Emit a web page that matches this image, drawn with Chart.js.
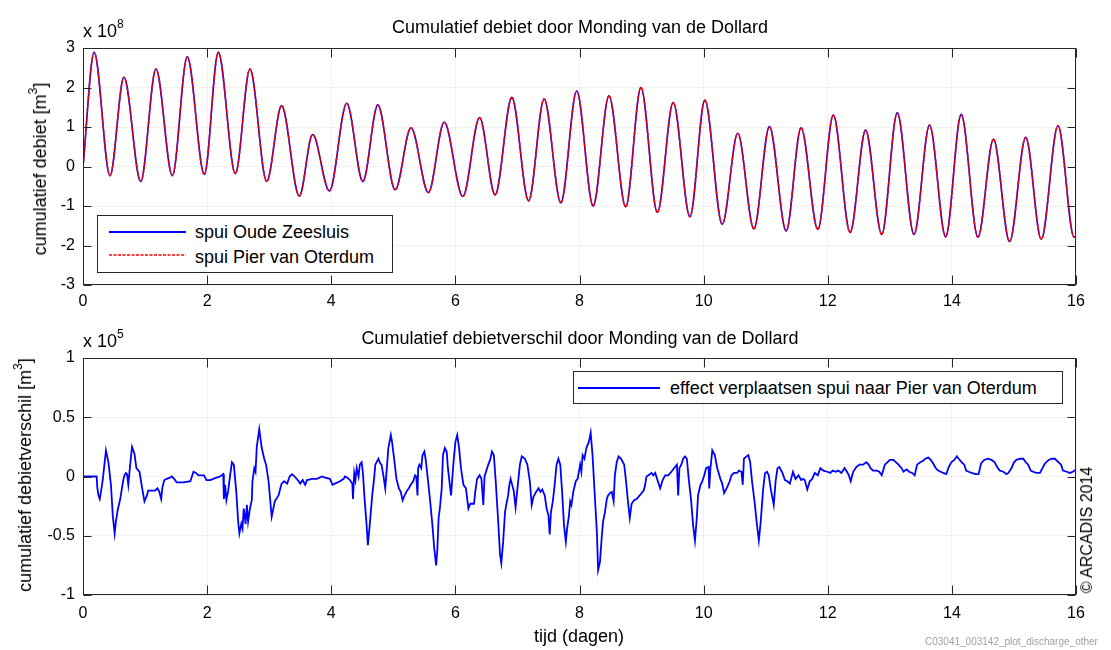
<!DOCTYPE html>
<html>
<head>
<meta charset="utf-8">
<script src="https://cdn.jsdelivr.net/npm/chart.js@4/dist/chart.umd.min.js"></script>
<style>
  html, body { margin: 0; padding: 0; background: #fff; overflow: hidden; }
  #wrap { position: relative; width: 1111px; height: 650px; background: #fff; overflow: hidden;
          font-family: "Liberation Sans", Arial, Helvetica, sans-serif; color: #000; }
  canvas { position: absolute; left: 0; }
  .t { position: absolute; white-space: nowrap; line-height: 1; }
  .title { font-size: 18px; transform: translate(-50%, -50%); }
  .ylab { font-size: 18px; transform: translate(-50%, -50%) rotate(-90deg); }
  .legend { position: absolute; background: #fff; border: 1px solid #262626; box-sizing: border-box; }
  .lline { position: absolute; }
  .ltext { position: absolute; font-size: 18px; line-height: 1; white-space: nowrap; transform: translateY(-50%); }
  sup { font-size: 12px; position: relative; top: -4px; vertical-align: top; }
</style>
</head>
<body>
<div id="wrap">
  <canvas id="c1" width="1111" height="320" style="top:0"></canvas>
  <canvas id="c2" width="1111" height="330" style="top:320px"></canvas>

  <div class="t title" style="left:580px; top:27px;">Cumulatief debiet door Monding van de Dollard</div>
  <div class="t" style="left:83px; top:22px; font-size:18px;">x 10<sup>8</sup></div>
  <div class="t ylab" style="left:40px; top:169px;">cumulatief debiet [m<sup>3</sup>]</div>

  <div class="legend" style="left:97px; top:215px; width:296px; height:58px;"></div>
  <div class="lline" style="left:109px; top:231px; width:77px; height:2px; background:#0000ff;"></div>
  <div class="ltext" style="left:195px; top:232px;">spui Oude Zeesluis</div>
  <svg class="lline" style="left:109px; top:253px;" width="77" height="4">
    <line x1="0" y1="2" x2="77" y2="2" stroke="#ff0000" stroke-width="1.4" stroke-dasharray="3 1.5"/>
  </svg>
  <div class="ltext" style="left:195px; top:257px;">spui Pier van Oterdum</div>

  <div class="t title" style="left:580px; top:338px;">Cumulatief debietverschil door Monding van de Dollard</div>
  <div class="t" style="left:83px; top:332px; font-size:18px;">x 10<sup>5</sup></div>
  <div class="t ylab" style="left:25px; top:475px;">cumulatief debietverschil [m<sup>3</sup>]</div>
  <div class="t title" style="left:579px; top:636px;">tijd (dagen)</div>

  <div class="legend" style="left:573px; top:371px; width:490px; height:33px;"></div>
  <div class="lline" style="left:578px; top:387px; width:82px; height:2px; background:#0000ff;"></div>
  <div class="ltext" style="left:670px; top:388px;">effect verplaatsen spui naar Pier van Oterdum</div>

  <div class="t ylab" style="left:1087px; top:530px; font-size:16px;">© ARCADIS 2014</div>
  <div class="t" style="left:925px; top:637px; font-size:10px; color:#a0a0a0;">C03041_003142_plot_discharge_other</div>
</div>

<script>
// ---- Top panel: cumulative discharge (x 1e8 m3), peaks & troughs
const topDays = [0, 0.18, 0.435, 0.66, 0.93, 1.176, 1.44, 1.68, 1.955, 2.18, 2.455, 2.69, 2.96, 3.2, 3.485, 3.70,
  3.97, 4.25, 4.51, 4.75, 5.03, 5.285, 5.565, 5.82, 6.12, 6.39, 6.64, 6.91, 7.18, 7.43, 7.70, 7.955,
  8.22, 8.475, 8.745, 8.99, 9.255, 9.51, 9.78, 10.02, 10.30, 10.55, 10.81, 11.06, 11.33, 11.57, 11.84, 12.09,
  12.36, 12.61, 12.87, 13.12, 13.39, 13.64, 13.90, 14.15, 14.42, 14.67, 14.93, 15.19, 15.44, 15.71, 15.97, 16.0];
const topValues = [0, 2.89, -0.23, 2.26, -0.38, 2.47, -0.23, 2.78, -0.2, 2.89, -0.18, 2.47, -0.38, 1.54, -0.75, 0.81,
  -0.62, 1.6, -0.38, 1.56, -0.59, 0.98, -0.66, 1.12, -0.76, 1.24, -0.72, 1.75, -0.87, 1.71, -0.92, 1.91,
  -1.0, 1.79, -1.02, 2.0, -1.16, 1.62, -1.27, 1.68, -1.46, 0.84, -1.58, 1.01, -1.63, 0.98, -1.59, 1.30,
  -1.67, 0.92, -1.72, 1.36, -1.72, 1.05, -1.78, 1.32, -1.79, 0.69, -1.90, 0.74, -1.84, 1.03, -1.79, -1.76];

// ---- Bottom panel: cumulative discharge difference (x 1e5 m3), [day, value]
const diffPoints = [
  [0,0],[0.22,0],[0.23,-0.09],[0.25,-0.16],[0.27,-0.19],[0.29,-0.13],[0.32,-0.02],[0.37,0.22],[0.41,0.12],
  [0.45,-0.07],[0.48,-0.33],[0.51,-0.48],[0.53,-0.38],[0.56,-0.28],[0.60,-0.19],[0.63,-0.09],[0.66,0],
  [0.69,0.03],[0.71,0.02],[0.73,-0.07],[0.76,0.1],[0.79,0.25],[0.83,0.19],[0.86,0.07],[0.91,0.04],
  [0.95,-0.09],[0.99,-0.21],[1.03,-0.16],[1.05,-0.12],[1.11,-0.12],[1.16,-0.12],[1.2,-0.10],[1.23,-0.13],
  [1.26,-0.19],[1.28,-0.09],[1.31,-0.03],[1.35,-0.02],[1.4,-0.01],[1.43,0],[1.47,-0.02],[1.51,-0.05],
  [1.62,-0.05],[1.73,-0.04],[1.78,0.04],[1.82,0.03],[1.86,0.01],[1.9,0.01],[1.95,0.01],[1.99,-0.03],
  [2.05,-0.03],[2.1,-0.02],[2.15,-0.01],[2.21,0],[2.26,0.02],[2.27,-0.19],[2.29,-0.07],[2.31,-0.2],
  [2.34,-0.12],[2.37,0.01],[2.40,0.12],[2.43,0.1],[2.47,-0.13],[2.5,-0.38],[2.52,-0.48],[2.55,-0.4],
  [2.57,-0.44],[2.59,-0.27],[2.62,-0.4],[2.64,-0.24],[2.66,-0.38],[2.69,-0.27],[2.72,-0.2],[2.73,-0.04],
  [2.76,0.07],[2.78,0.04],[2.8,0.25],[2.84,0.40],[2.88,0.24],[2.92,0.15],[2.95,0.1],[2.99,-0.04],
  [3.04,-0.34],[3.09,-0.21],[3.15,-0.16],[3.20,-0.06],[3.24,-0.04],[3.29,-0.06],[3.33,0],[3.37,0.02],
  [3.41,0],[3.46,-0.03],[3.50,-0.06],[3.54,-0.03],[3.58,-0.07],[3.61,-0.03],[3.69,-0.02],[3.77,-0.02],
  [3.85,0],[3.90,-0.01],[3.98,-0.02],[4.02,-0.07],[4.06,-0.06],[4.14,-0.04],[4.2,-0.02],[4.22,0],
  [4.26,-0.01],[4.30,-0.03],[4.34,-0.06],[4.35,-0.19],[4.37,0.03],[4.39,-0.03],[4.41,0.07],[4.44,0],
  [4.46,0.1],[4.49,0.12],[4.51,0.03],[4.54,-0.21],[4.57,-0.41],[4.59,-0.58],[4.62,-0.41],[4.66,-0.16],
  [4.69,-0.02],[4.71,0.1],[4.76,0.15],[4.79,0.11],[4.81,0.1],[4.84,0.01],[4.87,-0.1],[4.90,0.1],
  [4.92,0.24],[4.96,0.35],[4.98,0.29],[5.02,0.12],[5.05,-0.02],[5.09,-0.1],[5.12,-0.13],[5.15,-0.2],
  [5.19,-0.15],[5.22,-0.12],[5.25,-0.1],[5.28,-0.07],[5.32,-0.04],[5.35,0.01],[5.37,0],[5.39,-0.16],
  [5.40,0.07],[5.42,0.1],[5.45,0.07],[5.47,0.18],[5.50,0.21],[5.52,0.15],[5.55,0.01],[5.59,-0.19],
  [5.63,-0.41],[5.66,-0.61],[5.69,-0.75],[5.71,-0.61],[5.73,-0.35],[5.75,-0.27],[5.78,-0.1],[5.80,0.18],
  [5.83,0.24],[5.86,0.21],[5.88,0.07],[5.93,-0.16],[5.97,0.12],[6.0,0.29],[6.03,0.35],[6.06,0.24],
  [6.09,0.07],[6.13,-0.07],[6.17,-0.1],[6.21,-0.27],[6.24,-0.23],[6.30,-0.23],[6.32,-0.13],[6.35,-0.02],
  [6.39,0.01],[6.42,-0.02],[6.45,-0.24],[6.47,0],[6.50,0.05],[6.53,0.1],[6.56,0.14],[6.59,0.21],
  [6.62,0.18],[6.65,-0.04],[6.69,-0.38],[6.72,-0.66],[6.74,-0.73],[6.77,-0.55],[6.80,-0.3],[6.83,-0.21],
  [6.85,-0.16],[6.87,-0.07],[6.89,-0.02],[6.91,-0.06],[6.94,-0.12],[6.97,-0.26],[7.0,-0.1],[7.04,0.1],
  [7.07,0.17],[7.12,0.15],[7.16,0.1],[7.20,-0.04],[7.23,-0.24],[7.26,-0.17],[7.30,-0.13],[7.34,-0.1],
  [7.37,-0.13],[7.40,-0.11],[7.44,-0.16],[7.47,-0.27],[7.50,-0.33],[7.52,-0.49],[7.54,-0.3],[7.57,-0.21],
  [7.6,-0.07],[7.63,0.1],[7.66,0.15],[7.69,0.1],[7.72,-0.13],[7.75,-0.41],[7.78,-0.55],[7.80,-0.44],
  [7.83,-0.33],[7.85,-0.21],[7.87,-0.24],[7.90,-0.13],[7.94,-0.04],[7.97,-0.02],[8.01,0.1],[8.03,0.04],
  [8.05,0.18],[8.08,0.15],[8.11,0.24],[8.15,0.29],[8.18,0.37],[8.21,0.18],[8.24,-0.1],[8.28,-0.47],
  [8.30,-0.79],[8.33,-0.72],[8.36,-0.5],[8.38,-0.38],[8.41,-0.3],[8.44,-0.19],[8.46,-0.16],[8.49,-0.14],
  [8.52,-0.13],[8.55,-0.21],[8.57,0.01],[8.60,0.12],[8.63,0.17],[8.67,0.15],[8.72,0.1],[8.75,-0.04],
  [8.78,-0.21],[8.81,-0.35],[8.84,-0.23],[8.88,-0.2],[8.92,-0.19],[8.97,-0.16],[9.03,-0.12],[9.05,-0.09],
  [9.08,0],[9.11,0.01],[9.16,0.03],[9.19,0.01],[9.22,0.03],[9.25,-0.02],[9.30,-0.1],[9.34,-0.03],
  [9.38,0.01],[9.43,0.01],[9.48,0.04],[9.54,0.08],[9.57,0.1],[9.59,-0.16],[9.61,0.07],[9.64,0.1],
  [9.67,0.15],[9.70,0.17],[9.73,0.15],[9.76,-0.02],[9.80,-0.21],[9.83,-0.41],[9.86,-0.54],[9.89,-0.35],
  [9.91,-0.16],[9.95,-0.07],[9.98,-0.04],[10.01,0.01],[10.04,0.07],[10.08,0.08],[10.09,-0.1],[10.11,0.07],
  [10.14,0.22],[10.18,0.18],[10.22,0.07],[10.27,-0.02],[10.30,-0.06],[10.33,-0.14],[10.38,-0.09],[10.42,-0.04],
  [10.45,0.01],[10.49,0.03],[10.54,0.03],[10.57,0.05],[10.61,0.04],[10.63,-0.07],[10.65,0.15],[10.69,0.17],
  [10.72,0.18],[10.75,0.12],[10.78,-0.04],[10.82,-0.21],[10.86,-0.41],[10.89,-0.54],[10.92,-0.38],[10.96,-0.1],
  [10.99,0.03],[11.02,0.04],[11.05,0.01],[11.08,-0.1],[11.13,-0.24],[11.16,-0.04],[11.19,0.07],[11.22,0.08],
  [11.27,0.03],[11.31,-0.03],[11.35,-0.04],[11.39,-0.06],[11.44,0.04],[11.48,-0.02],[11.53,0.01],[11.57,-0.03],
  [11.60,-0.02],[11.63,-0.03],[11.67,-0.11],[11.71,-0.04],[11.75,-0.02],[11.79,0.03],[11.84,0.01],[11.88,0.07],
  [11.93,0.05],[11.99,0.04],[12.04,0.03],[12.08,0.05],[12.13,0.04],[12.17,0.05],[12.22,0.03],[12.27,0.07],
  [12.31,0.04],[12.34,0.01],[12.37,-0.04],[12.41,0.04],[12.46,0.08],[12.51,0.1],[12.57,0.1],[12.62,0.12],
  [12.66,0.1],[12.69,0.07],[12.73,0.05],[12.79,0.05],[12.83,0.04],[12.87,0.01],[12.92,0.1],[12.96,0.12],
  [13.0,0.14],[13.06,0.14],[13.10,0.12],[13.14,0.1],[13.19,0.07],[13.22,0.04],[13.27,0.06],[13.31,0.04],
  [13.36,0.03],[13.40,0.01],[13.44,0.1],[13.49,0.12],[13.53,0.13],[13.57,0.15],[13.62,0.16],[13.66,0.14],
  [13.70,0.11],[13.74,0.07],[13.78,0.05],[13.82,0.04],[13.86,0.03],[13.91,0.02],[13.95,0.08],[13.99,0.12],
  [14.04,0.14],[14.08,0.17],[14.11,0.15],[14.16,0.12],[14.20,0.1],[14.23,0.05],[14.27,0.04],[14.32,0.03],
  [14.38,0.02],[14.43,0.02],[14.47,0.11],[14.52,0.14],[14.58,0.15],[14.64,0.14],[14.69,0.12],[14.73,0.08],
  [14.77,0.05],[14.83,0.04],[14.88,0.02],[14.91,0.03],[14.96,0.07],[15.0,0.12],[15.04,0.14],[15.10,0.15],
  [15.15,0.15],[15.19,0.12],[15.23,0.1],[15.27,0.05],[15.31,0.04],[15.36,0.03],[15.42,0.03],[15.46,0.07],
  [15.50,0.11],[15.56,0.14],[15.61,0.15],[15.66,0.15],[15.72,0.12],[15.76,0.1],[15.79,0.05],[15.85,0.04],
  [15.90,0.03],[15.95,0.04],[16.0,0.06]
];

// ---- Axis ticks
const dayTicks = [0, 2, 4, 6, 8, 10, 12, 14, 16];
const topYTicks = [-3, -2, -1, 0, 1, 2, 3];
const diffYTicks = [-1, -0.5, 0, 0.5, 1];

const FONT = '"Liberation Sans", Arial, Helvetica, sans-serif';

const matlabAxes = {
  id: 'matlabAxes',
  afterDraw(chart) {
    const { ctx, chartArea: a, scales: { x, y } } = chart;
    ctx.save();
    ctx.strokeStyle = '#262626';
    ctx.lineWidth = 1;
    const L = Math.round(a.left) + 0.5, T = Math.round(a.top) + 0.5;
    const R = Math.round(a.right) - 0.5, B = Math.round(a.bottom) - 0.5;
    ctx.strokeRect(L, T, R - L, B - T);
    ctx.beginPath();
    x.ticks.forEach(t => {
      const px = Math.round(x.getPixelForValue(t.value)) + 0.5;
      ctx.moveTo(px, B); ctx.lineTo(px, B - 9);
      ctx.moveTo(px, T); ctx.lineTo(px, T + 9);
    });
    y.ticks.forEach(t => {
      const py = Math.round(y.getPixelForValue(t.value)) + 0.5;
      ctx.moveTo(L, py); ctx.lineTo(L + 8, py);
      ctx.moveTo(R, py); ctx.lineTo(R - 8, py);
    });
    ctx.stroke();
    ctx.restore();
  }
};

function makeOptions(yTicks, padTop, xAxisHeight, xPad) {
  return {
    responsive: false,
    animation: false,
    devicePixelRatio: 1,
    layout: { padding: { left: 0, right: 35, top: padTop, bottom: 0 } },
    plugins: { legend: { display: false }, title: { display: false }, tooltip: { enabled: false } },
    elements: { point: { radius: 0 } },
    scales: {
      x: {
        type: 'linear', min: 0, max: 16,
        afterBuildTicks: s => { s.ticks = dayTicks.map(v => ({ value: v })); },
        afterFit: s => { s.height = xAxisHeight; },
        grid: { color: 'rgba(0,0,0,0.05)', drawTicks: false },
        border: { display: false },
        ticks: { color: '#000', font: { family: FONT, size: 16 }, padding: xPad, maxRotation: 0 }
      },
      y: {
        type: 'linear', min: yTicks[0], max: yTicks[yTicks.length - 1],
        afterBuildTicks: s => { s.ticks = yTicks.map(v => ({ value: v })); },
        afterFit: s => { s.width = 83; },
        grid: { color: 'rgba(0,0,0,0.05)', drawTicks: false },
        border: { display: false },
        ticks: { color: '#000', font: { family: FONT, size: 16 }, padding: 8,
                 callback: v => String(v) }
      }
    }
  };
}

const topData = topDays.map((d, i) => ({ x: d, y: topValues[i] }));

new Chart(document.getElementById('c1'), {
  type: 'scatter',
  data: {
    datasets: [
      { label: 'spui Oude Zeesluis', data: topData, showLine: true, borderColor: '#0000ff',
        borderWidth: 1.6, cubicInterpolationMode: 'monotone', pointRadius: 0, order: 2 },
      { label: 'spui Pier van Oterdum', data: topData, showLine: true, borderColor: '#ff0000',
        borderWidth: 1.6, borderDash: [3, 1.5], cubicInterpolationMode: 'monotone', pointRadius: 0, order: 1 }
    ]
  },
  options: makeOptions(topYTicks, 48, 35, 7),
  plugins: [matlabAxes]
});

new Chart(document.getElementById('c2'), {
  type: 'scatter',
  data: {
    datasets: [
      { label: 'effect verplaatsen spui naar Pier van Oterdum',
        data: diffPoints.map(p => ({ x: p[0], y: p[1] })), showLine: true,
        borderColor: '#0000ff', borderWidth: 1.8, tension: 0, pointRadius: 0 }
    ]
  },
  options: makeOptions(diffYTicks, 38, 55, 9),
  plugins: [matlabAxes]
});
</script>
</body>
</html>
